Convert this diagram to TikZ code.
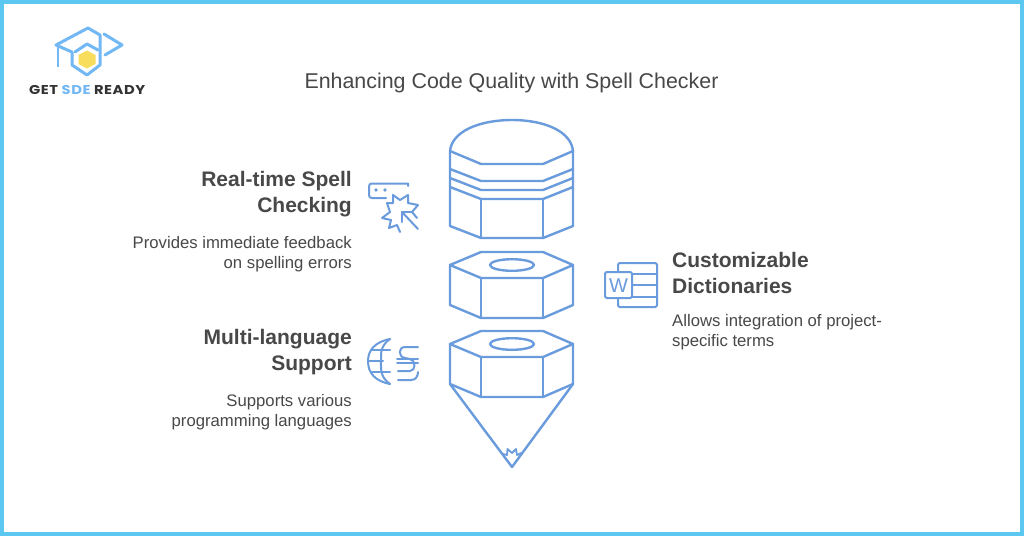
\documentclass[tikz,border=0pt]{standalone}
\usepackage{fontspec}
\setmainfont{Liberation Sans}
\newfontfamily\logofont[FakeStretch=1.15,LetterSpace=4]{Poppins}
\definecolor{frame}{HTML}{5CC8F2}
\definecolor{inkblue}{HTML}{6A9BDC}
\definecolor{txt}{HTML}{484848}
\definecolor{logoblue}{HTML}{72B8F5}
\definecolor{logoyel}{HTML}{F8DC5C}
\tikzset{x=1pt,y=-1pt,
 pencil/.style={draw=inkblue,line width=2.4pt,line join=round,line cap=round},
 icon/.style={draw=inkblue,line width=2pt,line join=round,line cap=round},
 logoline/.style={draw=logoblue,line width=3pt,line join=round,line cap=round},
 head/.style={text=txt,font=\fontsize{21}{26}\selectfont\bfseries,inner sep=0pt},
 body/.style={text=txt,font=\fontsize{16.7}{20.2}\selectfont,inner sep=0pt},
 title/.style={text=txt,font=\fontsize{21.4}{25}\selectfont,inner sep=0pt}}
\begin{document}
\begin{tikzpicture}
\useasboundingbox (0,0) rectangle (1024,536);
\fill[white] (0,0) rectangle (1024,536);
\draw[frame,line width=4pt] (2,2) rectangle (1022,534);
% logo
\fill[logoyel] (87,50.5) -- (95.5,55) -- (95.5,64) -- (87,68.5) -- (78.5,64) -- (78.5,55) -- cycle;
\draw[logoline] (56,45) -- (88,28) -- (100,35) -- (100,65) -- (87,75) -- (72,65) -- (72,52) -- cycle;
\draw[logoline] (104,34) -- (122,45) -- (105,55);
\draw[logoline] (75,52) -- (87,44) -- (98,50);
\draw[draw=logoblue,line width=1.6pt] (58,46) -- (58,60);
\draw[draw=logoblue,line width=2.8pt] (58,58) -- (58,67);
\node[inner sep=0pt,anchor=west] (logo) at (29,90) {\logofont\fontsize{12.8}{14}\selectfont\bfseries\textcolor{black!80}{GET}~\textcolor{logoblue}{SDE}~\textcolor{black!80}{READY}};
% title
\node[title] (ttl) at (511.5,82.5) {Enhancing Code Quality with Spell Checker};
% pencil top
\draw[pencil] (450,151) .. controls (452,131) and (480,120) .. (512,120) .. controls (544,120) and (571,131) .. (573,151) -- (573,226) -- (543,238) -- (481,238) -- (450,226) -- cycle;
\draw[pencil] (450,151) -- (481,164) -- (543,164) -- (573,151);
\draw[pencil] (450,169) -- (481,181) -- (543,181) -- (573,169);
\draw[pencil] (450,178) -- (481,190) -- (543,190) -- (573,178);
\draw[pencil] (450,187) -- (481,199) -- (543,199) -- (573,187);
\draw[pencil] (481,199) -- (481,238) (543,199) -- (543,238);
% nut 1
\draw[pencil] (450,265) -- (481,252) -- (543,252) -- (573,265) -- (573,305) -- (543,318) -- (481,318) -- (450,305) -- cycle;
\draw[pencil] (450,265) -- (481,278) -- (543,278) -- (573,265);
\draw[pencil] (481,278) -- (481,318) (543,278) -- (543,318);
\draw[pencil] (512,265) ellipse [x radius=22,y radius=5.8];
% nut 2 + tip
\draw[pencil] (450,344) -- (481,331) -- (543,331) -- (573,344) -- (573,384) -- (543,397) -- (481,397) -- (450,384) -- cycle;
\draw[pencil] (450,344) -- (481,357) -- (543,357) -- (573,344);
\draw[pencil] (481,357) -- (481,397) (543,357) -- (543,397);
\draw[pencil] (512,344) ellipse [x radius=22,y radius=5.8];
\draw[pencil] (450,384) -- (512,467) -- (573,384);
\draw[pencil,line width=1.8pt] (503,454) -- (507,455) -- (507.5,449) -- (512,453) -- (516,449) -- (517,455) -- (521,453);
% icon 1
\draw[icon] (408,186) -- (408,183.5) -- (372,183.5) .. controls (370,183.5) and (369,184.5) .. (369,186.5) -- (369,195) .. controls (369,197) and (370,198) .. (372,198) -- (386,198);
\fill[inkblue] (376,190) circle [radius=1.8] (385,190) circle [radius=1.8];
\draw[icon] (393,195) -- (400,200) -- (408,195) -- (408,203) -- (418,205) -- (412,212) -- (417,218);
\draw[icon] (393,195) -- (393,203) -- (387,203) -- (390,212) -- (382,218) -- (391,220) -- (389,228) -- (397,225) -- (400,232);
\draw[icon] (418,229) -- (402,212);
\draw[icon] (402,222) -- (402,212) -- (412,212);
% icon 2
\draw[icon] (390,339) .. controls (375,342) and (368,350) .. (368,361) .. controls (368,373) and (375,381) .. (390,384);
\draw[icon] (390,339) .. controls (380,346) and (381,354) .. (381,361) .. controls (381,369) and (380,377) .. (390,384);
\draw[icon] (372,350) -- (390,350) (368,361) -- (383,361) (372,372) -- (390,372);
\draw[icon] (418,347) -- (405,347) .. controls (398,347) and (398,357) .. (405,358) -- (410,359) .. controls (416,360) and (416,371) .. (410,371) -- (398,371);
\draw[icon] (397,359) -- (418,359) (397,363) -- (418,363);
\draw[icon] (398,380) -- (411,380) .. controls (416,380) and (418,376) .. (418,372);
% icon 3
\draw[icon,rounded corners=1.5pt] (618,284) -- (618,263) -- (657,263) -- (657,307) -- (618,307) -- (618,298);
\draw[icon] (632,274) -- (657,274) (632,285) -- (657,285) (632,297) -- (657,297);
\draw[icon,fill=white,rounded corners=2pt] (605,272) rectangle (632,298);
\node[inner sep=0pt,text=inkblue,font=\fontsize{20}{22}\selectfont] (w) at (618.5,285.5) {W};
% texts
\node[head,anchor=east,align=right] (h1) at (352,194) {Real-time Spell\\Checking};
\node[body,anchor=east,align=right] (b1) at (352,254.5) {Provides immediate feedback\\on spelling errors};
\node[head,anchor=east,align=right] (h2) at (352,352.5) {Multi-language\\Support};
\node[body,anchor=east,align=right] (b2) at (352,412) {Supports various\\programming languages};
\node[head,anchor=west,align=left] (h3) at (672,272.5) {Customizable\\Dictionaries};
\node[body,anchor=west,align=left] (b3) at (672,332) {Allows integration of project-\\specific terms};
\end{tikzpicture}
\end{document}
